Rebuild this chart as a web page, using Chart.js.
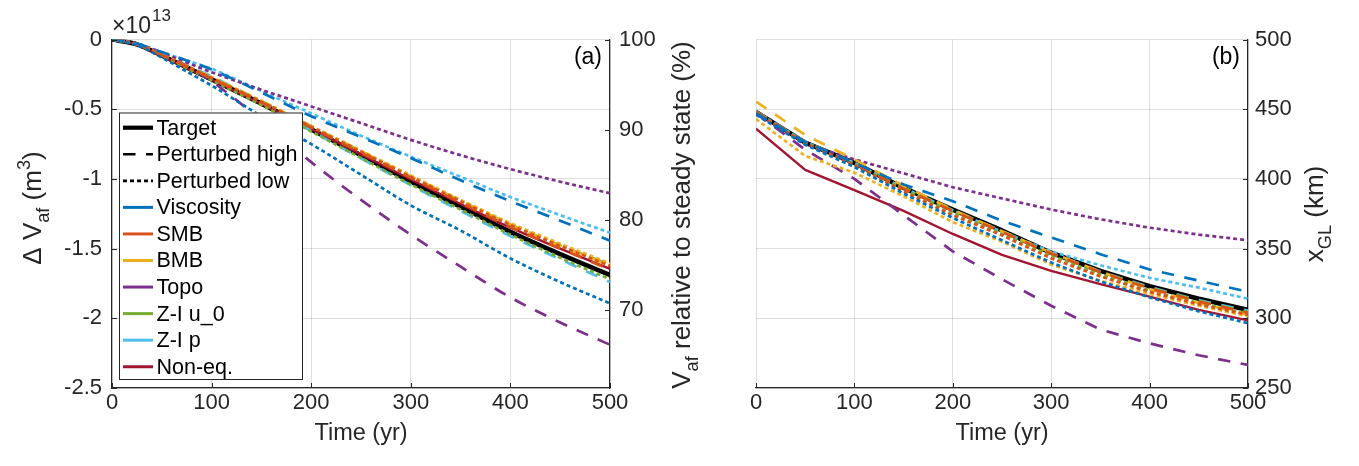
<!DOCTYPE html>
<html>
<head>
<meta charset="utf-8">
<script src="https://cdn.jsdelivr.net/npm/chart.js@4.4.1/dist/chart.umd.min.js"></script>
<style>
html,body{margin:0;padding:0;background:#fff;}
#wrap{position:relative;width:1359px;height:466px;overflow:hidden;background:#fff;}
#ca{position:absolute;left:0;top:0;width:720px;height:466px;}
#cb{position:absolute;left:720px;top:0;width:639px;height:466px;}
</style>
</head>
<body>
<div id="wrap">
<canvas id="ca" width="720" height="466"></canvas>
<canvas id="cb" width="639" height="466"></canvas>
</div>
<script>
// ---------------- DATA ----------------
// Panel (a): change in volume above flotation, units of 1e13 m^3
const timesA = [0, 25, 50, 75, 100, 150, 200, 250, 300, 350, 400, 450, 500];
const aTarget   = [0,-0.035,-0.115,-0.200,-0.286,-0.460,-0.645,-0.830,-1.020,-1.200,-1.380,-1.540,-1.690];
const aViscHigh = [0,-0.030,-0.090,-0.150,-0.215,-0.380,-0.550,-0.700,-0.850,-1.010,-1.160,-1.300,-1.443];
const aViscLow  = [0,-0.040,-0.130,-0.230,-0.330,-0.550,-0.750,-0.970,-1.190,-1.370,-1.570,-1.740,-1.893];
const aSmbHigh  = [0,-0.034,-0.112,-0.195,-0.280,-0.450,-0.632,-0.812,-0.992,-1.170,-1.345,-1.500,-1.652];
const aSmbLow   = [0,-0.034,-0.110,-0.192,-0.276,-0.446,-0.626,-0.805,-0.985,-1.160,-1.330,-1.480,-1.625];
const aBmbHigh  = [0,-0.034,-0.111,-0.193,-0.278,-0.448,-0.628,-0.806,-0.984,-1.158,-1.328,-1.478,-1.622];
const aBmbLow   = [0,-0.033,-0.108,-0.188,-0.270,-0.440,-0.620,-0.797,-0.975,-1.150,-1.317,-1.465,-1.606];
const aTopoHigh = [0,-0.035,-0.115,-0.190,-0.300,-0.580,-0.880,-1.150,-1.400,-1.630,-1.850,-2.030,-2.190];
const aTopoLow  = [0,-0.030,-0.095,-0.165,-0.235,-0.360,-0.480,-0.600,-0.720,-0.830,-0.930,-1.020,-1.103];
const aZu0High  = [0,-0.034,-0.110,-0.190,-0.274,-0.442,-0.622,-0.802,-0.982,-1.157,-1.327,-1.477,-1.615];
const aZu0Low   = [0,-0.036,-0.118,-0.205,-0.292,-0.470,-0.660,-0.850,-1.040,-1.220,-1.400,-1.565,-1.720];
const aZpHigh   = [0,-0.033,-0.105,-0.185,-0.265,-0.450,-0.655,-0.852,-1.045,-1.230,-1.410,-1.577,-1.740];
const aZpLow    = [0,-0.030,-0.090,-0.150,-0.210,-0.370,-0.530,-0.690,-0.840,-0.985,-1.130,-1.260,-1.386];
const aNonEq    = [0,-0.036,-0.120,-0.205,-0.290,-0.462,-0.642,-0.824,-1.004,-1.180,-1.350,-1.500,-1.645];

// Panel (b): grounding line position, km
const timesB = [0, 50, 100, 150, 200, 250, 300, 350, 400, 450, 500];
const bTarget   = [448.0,426.0,411.5,393.5,378.0,363.0,347.0,334.0,323.0,314.0,306.0];
const bViscHigh = [447.0,426.5,411.5,396.0,384.0,370.0,358.0,346.0,335.0,327.0,319.0];
const bViscLow  = [446.0,424.5,408.5,389.5,372.0,356.0,340.0,326.5,315.0,305.0,296.5];
const bSmbHigh  = [448.0,426.5,411.0,393.0,377.0,362.0,346.5,333.0,321.5,312.0,304.0];
const bSmbLow   = [447.5,425.5,410.0,391.0,374.0,359.5,343.0,330.0,319.0,310.0,302.5];
const bBmbHigh  = [455.5,431.5,414.0,395.0,378.0,362.5,347.0,333.5,321.0,311.0,302.5];
const bBmbLow   = [443.0,416.5,404.5,387.5,369.0,355.0,338.5,327.0,317.5,309.0,301.5];
const bTopoHigh = [447.0,421.0,400.0,374.0,348.0,328.0,309.0,292.0,282.0,273.5,266.5];
const bTopoLow  = [447.0,425.0,414.0,404.0,394.0,386.0,378.0,371.0,365.0,360.0,356.0];
const bZu0High  = [448.0,426.5,411.5,394.0,377.5,362.5,346.5,333.0,322.0,312.5,304.5];
const bZu0Low   = [447.5,426.0,410.5,392.5,376.0,360.5,345.0,331.5,320.0,311.0,303.5];
const bZpHigh   = [448.5,426.5,411.5,393.5,377.5,362.5,347.0,333.5,322.5,313.0,305.5];
const bZpLow    = [448.0,426.5,411.5,393.5,377.5,362.0,348.0,338.0,329.0,322.0,314.0];
const bNonEq    = [436.0,406.5,392.0,377.0,360.5,345.5,334.0,324.5,315.5,306.0,298.5];

// Axis / tick labels
const PARAMS = ['Viscosity','SMB','BMB','Topo','Z-I u_0','Z-I p'];
const PARAM_COLORS = ['#0072BD','#D95319','#EDB120','#7E2F8E','#77AC30','#4DBEEE'];
const NONEQ_LABEL = 'Non-eq.';
const NONEQ_COLOR = '#A2142F';
const STYLE_LABELS = ['Target','Perturbed high','Perturbed low'];
const A_RANGE = [-2.5, 0];
const A_STEP = 0.5;
const PCT_RANGE = [61.3, 100];
const PCT_TICKS = [70, 80, 90, 100];
const B_RANGE = [250, 500];
const B_STEP = 50;
const T_RANGE = [0, 500];
const T_STEP = 100;

// ---------------- STYLE ----------------
const FONT = '"Liberation Sans", Arial, Helvetica, sans-serif';
const INK = '#262626';
const GRID = 'rgba(38,38,38,0.15)';
const DASH = [12.5, 10.5];
const DOT = [4, 3];
const YTITLE = 26;
Chart.defaults.font.family = FONT;
Chart.defaults.color = INK;

const aHigh = [aViscHigh, aSmbHigh, aBmbHigh, aTopoHigh, aZu0High, aZpHigh];
const aLow  = [aViscLow,  aSmbLow,  aBmbLow,  aTopoLow,  aZu0Low,  aZpLow];
const bHigh = [bViscHigh, bSmbHigh, bBmbHigh, bTopoHigh, bZu0High, bZpHigh];
const bLow  = [bViscLow,  bSmbLow,  bBmbLow,  bTopoLow,  bZu0Low,  bZpLow];

function pts(times, vals){ return times.map((t,i)=>({x:t, y:vals[i]})); }
function ds(label, times, vals, color, dash, width, smooth){
  return {
    label, data: pts(times, vals), borderColor: color, backgroundColor: color,
    borderDash: dash, borderWidth: width, pointRadius: 0, fill: false,
    borderCapStyle: 'butt', borderJoinStyle: 'round',
    cubicInterpolationMode: smooth ? 'monotone' : 'default', tension: 0
  };
}
function buildSets(times, high, low, nonEq, target, smooth){
  const out = [];
  PARAMS.forEach((p,i)=>{
    out.push(ds(p+' high', times, high[i], PARAM_COLORS[i], DASH, 2.7, smooth));
    out.push(ds(p+' low',  times, low[i],  PARAM_COLORS[i], DOT,  2.7, smooth));
  });
  out.push(ds(NONEQ_LABEL, times, nonEq, NONEQ_COLOR, [], 2.4, smooth));
  out.push(ds(STYLE_LABELS[0], times, target, '#000000', [], 4.6, smooth));
  return out;
}

// rich text helper (sub/superscripts)
function fontFor(p, size){ return ((p.s ? size*0.7 : size).toFixed(1)) + 'px ' + FONT; }
function drawRich(ctx, parts, x, y, rot, size, align){
  ctx.save();
  ctx.translate(x, y); ctx.rotate(rot);
  ctx.textBaseline = 'alphabetic'; ctx.textAlign = 'left';
  let w = 0;
  parts.forEach(p=>{ ctx.font = fontFor(p,size); w += ctx.measureText(p.t).width; });
  let cx = align === 'center' ? -w/2 : 0;
  parts.forEach(p=>{
    ctx.font = fontFor(p,size);
    const dy = p.s === 'sub' ? size*0.3 : (p.s === 'sup' ? -size*0.42 : 0);
    ctx.fillText(p.t, cx, dy);
    cx += ctx.measureText(p.t).width;
  });
  ctx.restore();
}

// inward MATLAB-style tick marks
const inTicks = {
  id: 'inTicks',
  afterDraw(chart){
    const ctx = chart.ctx, ca = chart.chartArea, L = 5;
    ctx.save(); ctx.strokeStyle = INK; ctx.lineWidth = 1;
    Object.values(chart.scales).forEach(s=>{
      s.ticks.forEach(t=>{
        const p = Math.round(s.getPixelForValue(t.value)) + 0.5;
        ctx.beginPath();
        if (s.axis === 'x'){ ctx.moveTo(p, ca.bottom); ctx.lineTo(p, ca.bottom - L); }
        else if (s.position === 'left'){ ctx.moveTo(ca.left, p); ctx.lineTo(ca.left + L, p); }
        else { ctx.moveTo(ca.right, p); ctx.lineTo(ca.right - L, p); }
        ctx.stroke();
      });
    });
    ctx.restore();
  }
};

// text overlays for panel (a)
const textA = {
  id: 'textA',
  afterDraw(chart){
    const ctx = chart.ctx, ca = chart.chartArea;
    ctx.save(); ctx.fillStyle = INK;
    drawRich(ctx, [{t:'\u0394 V'},{t:'af',s:'sub'},{t:' (m'},{t:'3',s:'sup'},{t:')'}], 41, 208, -Math.PI/2, YTITLE, 'center');
    drawRich(ctx, [{t:'V'},{t:'af',s:'sub'},{t:' relative to steady state (%)'}], 690, 215, -Math.PI/2, YTITLE, 'center');
    ctx.font = '23.5px ' + FONT; ctx.textAlign = 'center'; ctx.textBaseline = 'alphabetic';
    ctx.fillText('Time (yr)', (ca.left+ca.right)/2, 440);
    ctx.textAlign = 'left';
    ctx.font = '23px ' + FONT; ctx.fillText('\u00d710', 112, 33);
    const w = ctx.measureText('\u00d710').width;
    ctx.font = '17px ' + FONT; ctx.fillText('13', 112 + w + 1, 21);
    ctx.font = '23px ' + FONT; ctx.textAlign = 'right'; ctx.textBaseline = 'middle';
    ctx.fillStyle = '#000'; ctx.fillText('(a)', ca.right - 8, 58);
    ctx.restore();
  }
};

// MATLAB-like legend inside panel (a)
const legendItems = [
  {label: STYLE_LABELS[0], color:'#000', dash:[], w:4.2},
  {label: STYLE_LABELS[1], color:'#000', dash:DASH, w:2.7},
  {label: STYLE_LABELS[2], color:'#000', dash:DOT, w:2.7}
].concat(PARAMS.map((p,i)=>({label:p, color:PARAM_COLORS[i], dash:[], w:3})))
 .concat([{label:NONEQ_LABEL, color:NONEQ_COLOR, dash:[], w:3}]);
const legendA = {
  id: 'legendA',
  afterDraw(chart){
    const ctx = chart.ctx;
    const L = 119, T = 112.5, R = 303, B = 380;
    ctx.save();
    ctx.fillStyle = '#fff'; ctx.fillRect(L, T, R-L, B-T);
    ctx.strokeStyle = INK; ctx.lineWidth = 1; ctx.setLineDash([]);
    ctx.strokeRect(L+0.5, T+0.5, R-L-1, B-T-1);
    legendItems.forEach((it,i)=>{
      const y = 127.7 + i*26.56;
      ctx.beginPath(); ctx.setLineDash(it.dash); ctx.lineDashOffset = 0;
      ctx.lineWidth = it.w; ctx.strokeStyle = it.color; ctx.lineCap = 'butt';
      ctx.moveTo(123, y); ctx.lineTo(153, y); ctx.stroke();
      ctx.setLineDash([]);
      ctx.fillStyle = '#000'; ctx.font = '21.5px ' + FONT;
      ctx.textBaseline = 'middle'; ctx.textAlign = 'left';
      ctx.fillText(it.label, 156.5, y + 1);
    });
    ctx.restore();
  }
};

// text overlays for panel (b)
const textB = {
  id: 'textB',
  afterDraw(chart){
    const ctx = chart.ctx, ca = chart.chartArea;
    ctx.save(); ctx.fillStyle = INK;
    drawRich(ctx, [{t:'x'},{t:'GL',s:'sub'},{t:' (km)'}], 1323-720, 214, -Math.PI/2, YTITLE, 'center');
    ctx.font = '23.5px ' + FONT; ctx.textAlign = 'center'; ctx.textBaseline = 'alphabetic';
    ctx.fillText('Time (yr)', (ca.left+ca.right)/2, 440);
    ctx.font = '23px ' + FONT; ctx.textAlign = 'right'; ctx.textBaseline = 'middle';
    ctx.fillStyle = '#000'; ctx.fillText('(b)', ca.right - 8, 58);
    ctx.restore();
  }
};

const tickFont = {size: 22, family: FONT};
const plainNum = v => String(Math.round(v*1000)/1000);
function xScale(){
  return {
    type: 'linear', min: T_RANGE[0], max: T_RANGE[1],
    ticks: {stepSize: T_STEP, padding: 2, color: INK, font: tickFont, maxRotation: 0, callback: plainNum},
    grid: {color: GRID, lineWidth: 1, drawTicks: false},
    border: {display: true, color: INK, width: 1.2},
    afterFit(s){ s.height = 78; }
  };
}

new Chart(document.getElementById('ca'), {
  type: 'line',
  data: { datasets: buildSets(timesA, aHigh, aLow, aNonEq, aTarget, true) },
  options: {
    responsive: false, animation: false, devicePixelRatio: 1,
    layout: {padding: {top: 39.5, left: 0, right: 0, bottom: 0}},
    plugins: {legend: {display: false}, tooltip: {enabled: false}},
    scales: {
      x: xScale(),
      y: {
        type: 'linear', position: 'left', min: A_RANGE[0], max: A_RANGE[1],
        ticks: {stepSize: A_STEP, padding: 10, color: INK, font: tickFont, callback: plainNum},
        grid: {color: GRID, lineWidth: 1, drawTicks: false},
        border: {display: true, color: INK, width: 1.2},
        afterFit(s){ s.width = 112; }
      },
      yR: {
        type: 'linear', position: 'right', display: true, min: PCT_RANGE[0], max: PCT_RANGE[1],
        afterBuildTicks(s){ s.ticks = PCT_TICKS.map(v=>({value: v})); },
        ticks: {padding: 9, color: INK, font: tickFont, callback: plainNum},
        grid: {drawOnChartArea: false, drawTicks: false},
        border: {display: true, color: INK, width: 1.2},
        afterFit(s){ s.width = 110; }
      }
    }
  },
  plugins: [inTicks, legendA, textA]
});

new Chart(document.getElementById('cb'), {
  type: 'line',
  data: { datasets: buildSets(timesB, bHigh, bLow, bNonEq, bTarget, false) },
  options: {
    responsive: false, animation: false, devicePixelRatio: 1,
    layout: {padding: {top: 39.5, left: 36, right: 0, bottom: 0}},
    plugins: {legend: {display: false}, tooltip: {enabled: false}},
    scales: {
      x: xScale(),
      y: {
        type: 'linear', position: 'right', min: B_RANGE[0], max: B_RANGE[1],
        ticks: {stepSize: B_STEP, padding: 7, color: INK, font: tickFont, callback: plainNum},
        grid: {color: GRID, lineWidth: 1, drawTicks: false},
        border: {display: true, color: INK, width: 1.2},
        afterFit(s){ s.width = 111; }
      }
    }
  },
  plugins: [inTicks, textB]
});
</script>
</body>
</html>
